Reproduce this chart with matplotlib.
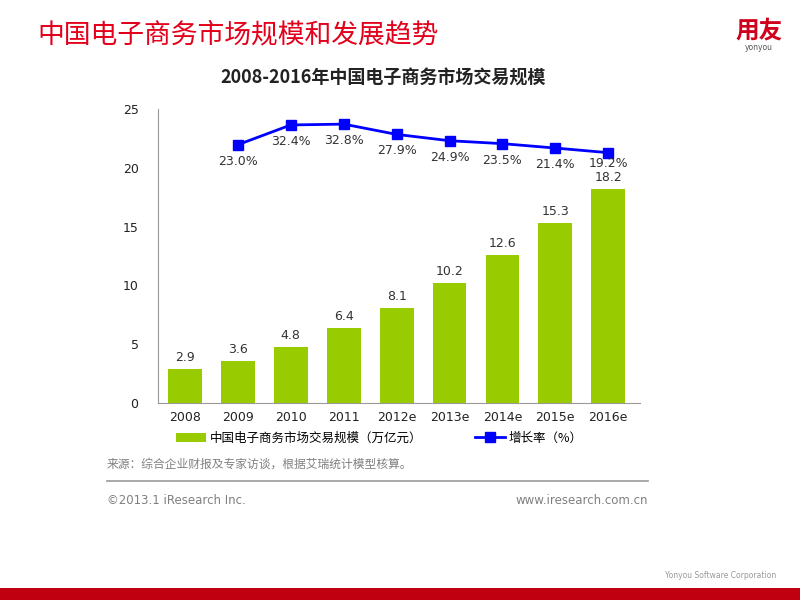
import numpy as np
import matplotlib
matplotlib.use("Agg")
from matplotlib import pyplot as plt
from matplotlib.patches import Rectangle

plt.rcParams['font.family'] = ['Noto Sans CJK SC', 'DejaVu Sans']

# data
years = ['2008', '2009', '2010', '2011', '2012e', '2013e', '2014e', '2015e', '2016e']
scale = [2.9, 3.6, 4.8, 6.4, 8.1, 10.2, 12.6, 15.3, 18.2]   # 万亿元
growth_years = years[1:]
growth = [23.0, 32.4, 32.8, 27.9, 24.9, 23.5, 21.4, 19.2]   # %

green = '#99CC00'
blue = '#0000FF'
red = '#E3001B'
gray = '#808080'

fig = plt.figure(figsize=(8, 6), dpi=100)

# slide header
fig.text(37/800, 1-35/600, '中国电子商务市场规模和发展趋势', color=red, fontsize=19.3,
         va='center', ha='left')
fig.text(759/800, 1-30/600, '用友', color='#D0021B', fontsize=17, fontweight='bold',
         va='center', ha='center')
fig.text(759/800, 1-48/600, 'yonyou', color='#555555', fontsize=5.5,
         va='center', ha='center', family='DejaVu Sans')

fig.text(383/800, 1-78/600, '2008-2016年中国电子商务市场交易规模', fontsize=13,
         fontweight='bold', va='center', ha='center', color='#222222')

ax = fig.add_axes([158/800, 1-403/600, (640-158)/800, (403-109)/600])
x = np.arange(len(years))
bars = ax.bar(x, scale, width=0.64, color=green, zorder=2,
              label='中国电子商务市场交易规模（万亿元）')
for xi, v in zip(x, scale):
    ax.text(xi, v + 0.4, '%.1f' % v, ha='center', va='bottom', fontsize=9,
            color='#333333', family='DejaVu Sans')

ax.set_xlim(-0.51, 8.6)
ax.set_ylim(0, 25)
ax.set_yticks([0, 5, 10, 15, 20, 25])
ax.set_xticks(x)
ax.set_xticklabels(years)
ax.tick_params(axis='both', length=0, labelsize=9, colors='#222222', pad=14)
ax.tick_params(axis='x', pad=6)
for lbl in ax.get_xticklabels() + ax.get_yticklabels():
    lbl.set_family('DejaVu Sans')
for s in ['top', 'right']:
    ax.spines[s].set_visible(False)
ax.spines['left'].set_color('#999999')
ax.spines['bottom'].set_color('#999999')

ax2 = ax.twinx()
gx = np.arange(1, len(years))
line, = ax2.plot(gx, growth, color=blue, lw=2, marker='s', ms=7, zorder=3,
                 label='增长率（%）')
for xi, v in zip(gx, growth):
    off = 5.2 if xi == gx[-1] else 7.8
    ax2.text(xi, v - off, '%.1f%%' % v, ha='center', va='center', fontsize=9,
             color='#333333', family='DejaVu Sans')
ax2.set_ylim(-100, 40)
ax2.axis('off')

fig.legend(handles=[bars, line], loc='center left', bbox_to_anchor=(165/800, 1-438/600),
           ncol=2, frameon=False, fontsize=9, handlelength=2.4, columnspacing=4.2,
           handletextpad=0.3)

fig.text(107/800, 1-464/600, '来源：综合企业财报及专家访谈，根据艾瑞统计模型核算。', color=gray,
         fontsize=8.5, va='center', ha='left')
fig.add_artist(plt.Line2D([107/800, 648/800], [1-481/600, 1-481/600], color='#999999', lw=1.2))
fig.text(107/800, 1-501/600, '©2013.1 iResearch Inc.', color=gray, fontsize=8.5,
         va='center', ha='left', family='DejaVu Sans')
fig.text(648/800, 1-501/600, 'www.iresearch.com.cn', color=gray, fontsize=8.5,
         va='center', ha='right', family='DejaVu Sans')

fig.text(721/800, 1-575/600, 'Yonyou Software Corporation', color='#999999', fontsize=5.5,
         va='center', ha='center', family='DejaVu Sans')
fig.add_artist(Rectangle((0, 0), 1, 12/600, transform=fig.transFigure,
                         color='#C00010', lw=0))

fig.savefig('out.png', dpi=100)
